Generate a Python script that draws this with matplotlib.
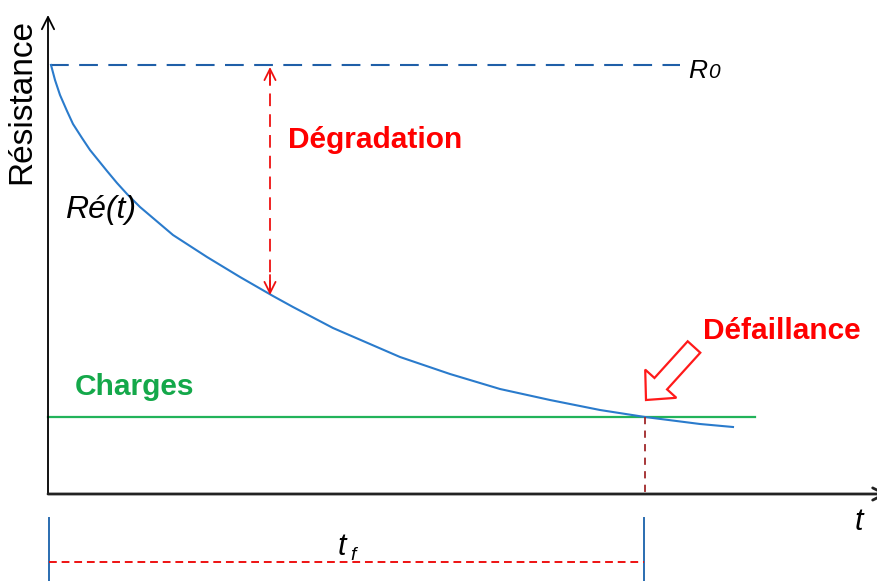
import matplotlib
matplotlib.use("Agg")
import matplotlib.pyplot as plt
import matplotlib.patches as mpatches

plt.rcParams['font.family'] = ['Liberation Sans', 'DejaVu Sans']

# schematic units: t along the time axis, R along the resistance axis
t_curve = [3, 7, 12, 19, 25, 34, 42, 59, 69, 79, 92, 125, 159, 192, 225, 245,
           285, 352, 402, 452, 502, 552, 597, 652, 685]
r_curve = [429, 414, 399, 383, 370, 356, 344, 323, 311, 300, 287, 259, 237, 217, 198, 187,
           166, 137, 120, 105, 94, 84, 77, 70, 67]

r0 = 429
r0_end = 632
charge = 77
charge_end = 707
t_f = 597
t_degr = 222
r_degr_low = 199
t_max = 830
r_max = 479

fig = plt.figure(figsize=(8.78, 5.81), dpi=100)
ax = fig.add_axes([0, 0, 1, 1])
ax.set_xlim(-48, 830)
ax.set_ylim(-87, 494)
ax.axis('off')

# axes with arrows
ax.annotate('', xy=(0, r_max), xytext=(0, 0), annotation_clip=False,
            arrowprops=dict(arrowstyle='->', color='black', lw=1.3, mutation_scale=22,
                            shrinkA=0, shrinkB=0))
ax.annotate('', xy=(t_max + 10, 0), xytext=(0, 0), annotation_clip=False,
            arrowprops=dict(arrowstyle='->', color='#222222', lw=2, mutation_scale=22,
                            shrinkA=0, shrinkB=0))

# R0 and loads
ax.plot([2, r0_end], [r0, r0], color='#1f5fa8', lw=1.5, dashes=(9, 5))
ax.plot([0, charge_end], [charge, charge], color='#22b35a', lw=1.6)
ax.plot(t_curve, r_curve, color='#2a7bcc', lw=1.5)

# failure time
ax.plot([t_f, t_f], [charge, 0], color='#a0282a', lw=1.3, dashes=(4, 3.5))

# degradation arrow
ax.plot([t_degr, t_degr], [r_degr_low + 2, r0 - 4], color='#ee1111', lw=1.3, dashes=(7, 4.5))
ax.annotate('', xy=(t_degr, r0 - 2), xytext=(t_degr, r0 - 20),
            arrowprops=dict(arrowstyle='->', color='#ee1111', lw=1.3, mutation_scale=20,
                            shrinkA=0, shrinkB=0))
ax.annotate('', xy=(t_degr, r_degr_low), xytext=(t_degr, r_degr_low + 20),
            arrowprops=dict(arrowstyle='->', color='#ee1111', lw=1.3, mutation_scale=20,
                            shrinkA=0, shrinkB=0))

# hollow arrow pointing to failure
ax.add_patch(mpatches.FancyArrow(646, 147, -48, -53, width=17, head_width=42, head_length=22,
                                 length_includes_head=True, fill=False, edgecolor='#ff1a1a', lw=1.6))

# t_f bracket below the axis
ax.plot([1, 1], [-24, -87], color='#2a6cb0', lw=1.4)
ax.plot([t_f - 1, t_f - 1], [-24, -87], color='#2a6cb0', lw=1.4)
ax.plot([1, t_f - 1], [-68, -68], color='#ee1111', lw=1.4, dashes=(4, 2.5))

# labels
ax.text(-26, 393, 'Résistance', rotation=90, fontsize=24, ha='center', va='center', color='black')
ax.text(240, 354, 'Dégradation', fontsize=21.5, fontweight='bold', color='#ff0000', va='center')
ax.text(655, 163, 'Défaillance', fontsize=21.5, fontweight='bold', color='#ff0000', va='center')
ax.text(27, 107, 'Charges', fontsize=21.5, fontweight='bold', color='#14a84a', va='center')
ax.text(17, 284, 'Ré(t)', fontsize=23, style='italic', color='black', va='center')
ax.text(640, 416, 'R', fontsize=19, style='italic', color='black', va='baseline')
ax.text(660, 416, '0', fontsize=15, style='italic', color='black', va='baseline')
ax.text(807, -28, 't', fontsize=22, style='italic', color='black', va='center')
ax.text(290, -53, 't', fontsize=22, style='italic', color='black', va='center')
ax.text(302, -61, 'f', fontsize=14, style='italic', color='black', va='center')

fig.savefig('out.png', dpi=100)
